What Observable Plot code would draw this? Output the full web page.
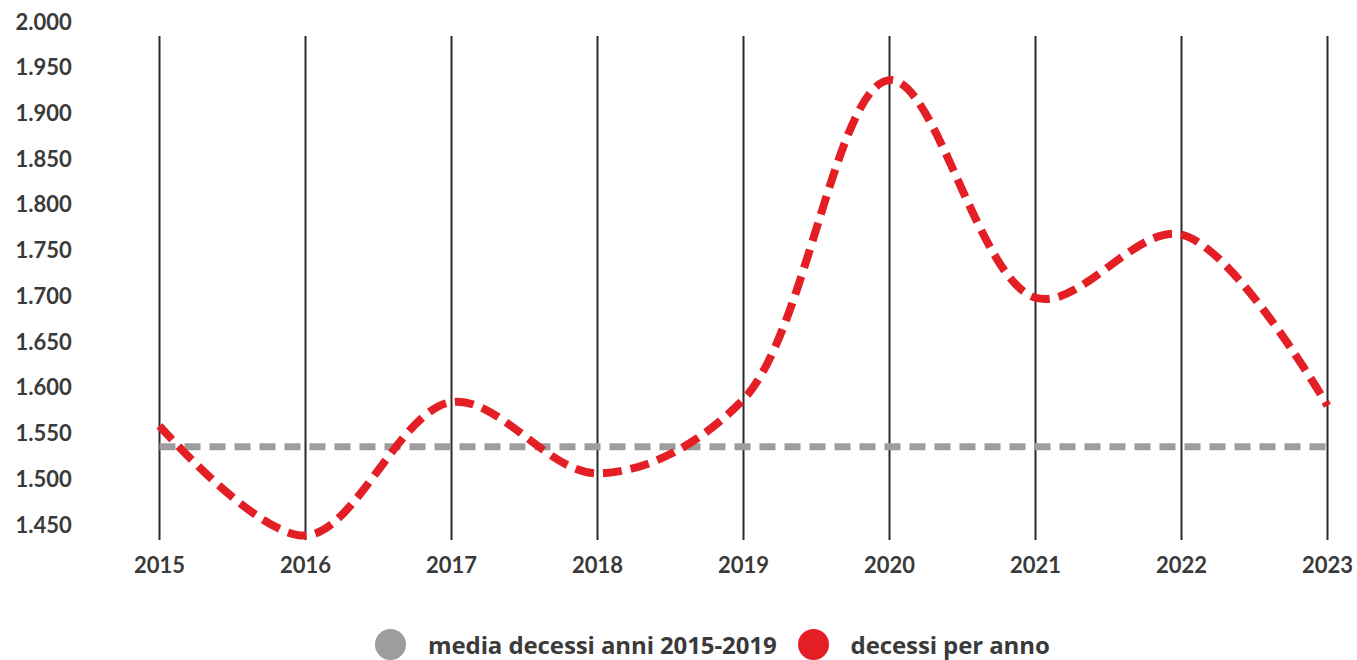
<!DOCTYPE html>
<html>
<head>
<meta charset="utf-8">
<script src="https://cdn.jsdelivr.net/npm/d3@7"></script>
<script src="https://cdn.jsdelivr.net/npm/@observablehq/plot@0.6"></script>
<style>
  html, body { margin: 0; padding: 0; background: #fff; }
  body { width: 1357px; height: 660px; overflow: hidden; font-family: Lato, "Open Sans", sans-serif; }
  #legend { display: flex; align-items: center; height: 36px; margin-top: 29px; padding-left: 375px; font-family: "Open Sans", sans-serif; font-weight: 700; font-size: 24px; color: #3a3a3a; letter-spacing: -0.1px; }
  .sw { width: 31px; height: 31px; border-radius: 50%; display: inline-block; margin-right: 22px; }
  .item { display: flex; align-items: center; margin-right: 21px; }
</style>
</head>
<body>
<div id="chart"></div>
<div id="legend"></div>
<script>
const years = [2015, 2016, 2017, 2018, 2019, 2020, 2021, 2022, 2023];
const decessi = [1559, 1439, 1585, 1507, 1588, 1937, 1699, 1768, 1581];
const media = [1536, 1536, 1536, 1536, 1536, 1536, 1536, 1536, 1536];
const yTicks = [1450, 1500, 1550, 1600, 1650, 1700, 1750, 1800, 1850, 1900, 1950, 2000];
const yTickLabels = ["1.450", "1.500", "1.550", "1.600", "1.650", "1.700", "1.750", "1.800", "1.850", "1.900", "1.950", "2.000"];
const seriesNames = ["media decessi anni 2015-2019", "decessi per anno"];
const seriesColors = ["#9d9d9d", "#e31e24"];

const rows = years.map((y, i) => ({year: y, decessi: decessi[i], media: media[i]}));
const labelOf = new Map(yTicks.map((t, i) => [t, yTickLabels[i]]));

const chart = Plot.plot({
  width: 1357,
  height: 597,
  marginLeft: 159,
  marginRight: 30,
  marginTop: 36,
  marginBottom: 57,
  style: {fontFamily: "Lato, 'Open Sans', sans-serif", fontWeight: 700, fontSize: "22px", color: "#3a3a3a", background: "#fff"},
  x: {type: "linear", domain: [2015, 2023], range: [159, 1327], label: null},
  y: {domain: [1450, 2000], range: [525, 22], label: null},
  marks: [
    Plot.ruleX(years, {stroke: "#2b2b2b", strokeWidth: 2}),
    Plot.axisX({ticks: years, tickFormat: d => String(d), tickSize: 0, tickPadding: 0, dy: 17, label: null, fontWeight: 700, fontSize: 22, fill: "#3a3a3a"}),
    Plot.axisY({ticks: yTicks, tickFormat: d => labelOf.get(d), tickSize: 0, tickPadding: 0, textAnchor: "start", dx: -144, label: null, fontWeight: 700, fontSize: 22, fill: "#3a3a3a"}),
    Plot.lineY(rows, {x: "year", y: "media", stroke: seriesColors[0], strokeWidth: 7, strokeDasharray: "16,9", strokeLinecap: "butt"}),
    Plot.lineY(rows, {x: "year", y: "decessi", stroke: seriesColors[1], strokeWidth: 8, strokeDasharray: "19,9", strokeLinecap: "butt", curve: "catmull-rom"})
  ]
});
document.getElementById("chart").appendChild(chart);

const legend = d3.select("#legend");
seriesNames.forEach((n, i) => {
  const it = legend.append("div").attr("class", "item");
  it.append("span").attr("class", "sw").style("background", seriesColors[i]);
  it.append("span").text(n);
});
</script>
</body>
</html>
